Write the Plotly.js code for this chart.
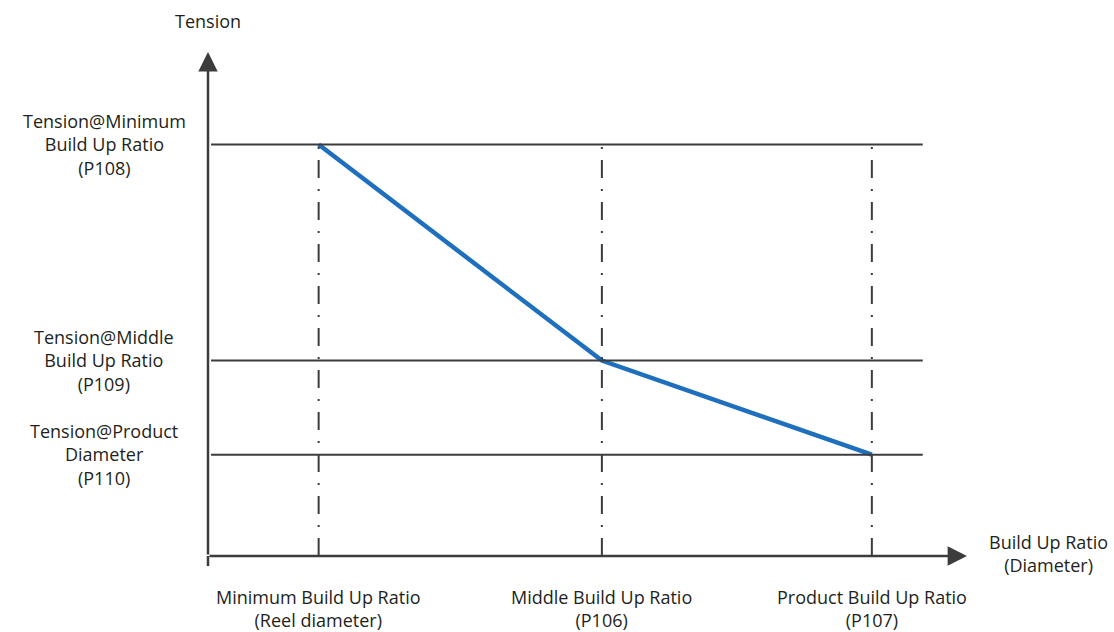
<!DOCTYPE html>
<html><head><meta charset="utf-8">
<script src="https://cdn.plot.ly/plotly-3.0.1.min.js"></script>
<style>html,body{margin:0;padding:0;background:#fff}</style>
</head><body>
<div id="chart" style="width:1114px;height:632px"></div>
<script>
// Build-up ratio positions (schematic units) and tensions
const buildUpRatio = [1.0, 3.56, 6.0];
const tension = [8.0, 3.8, 1.97];
const xLabels = ["Minimum Build Up Ratio<br>(Reel diameter)", "Middle Build Up Ratio<br>(P106)", "Product Build Up Ratio<br>(P107)"];
const yLabels = ["Tension@Minimum<br>Build Up Ratio<br>(P108)", "Tension@Middle<br>Build Up Ratio<br>(P109)", "Tension@Product<br>Diameter<br>(P110)"];
const xTitle = "Build Up Ratio<br>(Diameter)";
const yTitle = "Tension";

const lineCol = '#3c3c3c';
const textCol = '#231f20';
const font = {family: 'Open Sans, Lato, sans-serif', size: 18, color: textCol};
const hLineEnd = 6.46;

const shapes = [];
tension.forEach(t => shapes.push({type:'line', xref:'paper', yref:'y', x0:0.004, x1:(hLineEnd/6.86), y0:t, y1:t, line:{color:lineCol, width:2}}));
buildUpRatio.forEach(x => shapes.push({type:'line', xref:'x', yref:'y', x0:x, x1:x, y0:0, y1:tension[0], line:{color:lineCol, width:2, dash:'18px,11px,2px,11px'}}));
// y axis overshoot below x axis
shapes.push({type:'line', xref:'paper', yref:'paper', x0:0, x1:0, y0:0, y1:-0.02, line:{color:lineCol, width:2.5}});

const annotations = [];
// axes arrows
annotations.push({xref:'paper', yref:'paper', x:0, y:1, ax:0, ay:504, axref:'pixel', ayref:'pixel', text:'', showarrow:true, arrowhead:2, arrowsize:1.55, arrowwidth:2.5, arrowcolor:lineCol, standoff:0});
annotations.push({xref:'paper', yref:'paper', x:1, y:0, ax:-759, ay:0, text:'', showarrow:true, arrowhead:2, arrowsize:1.55, arrowwidth:2.5, arrowcolor:lineCol, standoff:0});
// axis titles
annotations.push({xref:'paper', yref:'paper', x:0, y:1, xanchor:'center', yanchor:'bottom', yshift:17, text:yTitle, showarrow:false, font:font});
annotations.push({xref:'paper', yref:'paper', x:1.108, y:0, xanchor:'center', yanchor:'middle', yshift:3, text:xTitle, showarrow:false, font:font, align:'center'});
// y labels
yLabels.forEach((l,i) => annotations.push({xref:'paper', yref:'y', x:-0.137, y:tension[i], xanchor:'center', yanchor:'middle', text:l, showarrow:false, font:font, align:'center'}));
// x labels
xLabels.forEach((l,i) => annotations.push({xref:'x', yref:'paper', x:buildUpRatio[i], y:0, xanchor:'center', yanchor:'top', yshift:-27, text:l, showarrow:false, font:font, align:'center'}));

const data = [{
  x: buildUpRatio, y: tension, type:'scatter', mode:'lines',
  line:{color:'#1f6fbf', width:4.5}, hoverinfo:'skip'
}];

const layout = {
  width:1114, height:632,
  margin:{l:208, r:147, t:52, b:76},
  paper_bgcolor:'#fff', plot_bgcolor:'#fff',
  showlegend:false,
  xaxis:{range:[0,6.86], visible:false, fixedrange:true},
  yaxis:{range:[0,9.8], visible:false, fixedrange:true},
  shapes:shapes, annotations:annotations, font:font
};
Plotly.newPlot('chart', data, layout, {displayModeBar:false, staticPlot:true});
</script>
</body></html>
